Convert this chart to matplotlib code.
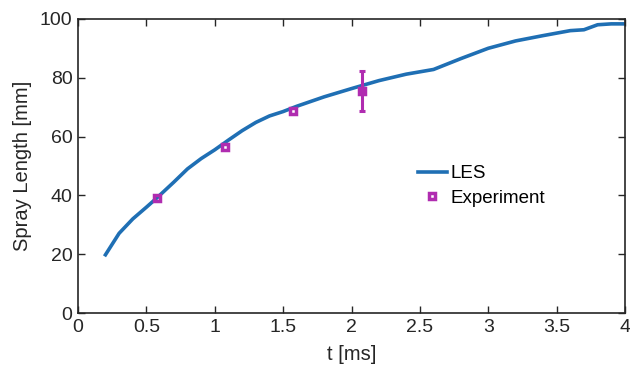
import matplotlib
matplotlib.use("Agg")
import matplotlib.pyplot as plt

plt.rcParams['font.family'] = ['Liberation Sans', 'DejaVu Sans']

# LES simulation
les_t = [0.2, 0.3, 0.4, 0.5, 0.58, 0.7, 0.8, 0.9, 1.0, 1.1, 1.2, 1.3, 1.4, 1.5,
         1.6, 1.8, 2.0, 2.2, 2.4, 2.6, 2.8, 3.0, 3.2, 3.4, 3.6, 3.7, 3.8, 3.9, 4.0]
les_len = [19.8, 27.1, 32.0, 36.0, 39.3, 44.5, 49.0, 52.5, 55.5, 58.8, 62.0, 64.8, 67.0, 68.5,
           70.3, 73.5, 76.3, 79.0, 81.2, 82.8, 86.5, 90.0, 92.5, 94.3, 96.0, 96.3, 98.0, 98.3, 98.3]

# Experiment
exp_t = [0.575, 1.075, 1.575, 2.075]
exp_len = [39.2, 56.4, 68.8, 75.6]
# error bar (only the last experimental point has one)
err_t = [2.075]
err_len = [75.6]
err_low = [6.9]
err_high = [6.8]

line_color = '#1f6fb4'
exp_color = '#b02cb0'

fig = plt.figure(figsize=(6.3, 3.7), dpi=100)
ax = fig.add_axes([0.124, 0.154, 0.868, 0.795])

ax.plot(les_t, les_len, color=line_color, lw=2.6, label='LES', zorder=2)
ax.errorbar(err_t, err_len, yerr=[err_low, err_high], fmt='none',
            ecolor=exp_color, elinewidth=2.2, capsize=2.5, capthick=2.2, zorder=3)
ax.plot(exp_t, exp_len, 's', ms=4.6, mfc='none', mec=exp_color, mew=2.5,
        label='Experiment', zorder=4)

ax.set_xlim(0, 4)
ax.set_ylim(0, 100)
ax.set_xticks([0, 0.5, 1, 1.5, 2, 2.5, 3, 3.5, 4])
ax.set_xticklabels(['0', '0.5', '1', '1.5', '2', '2.5', '3', '3.5', '4'])
ax.set_yticks([0, 20, 40, 60, 80, 100])
ax.tick_params(direction='in', length=5, width=1, labelsize=14, top=True, right=True,
               colors='#262626', pad=4)
for s in ax.spines.values():
    s.set_linewidth(1.2)
    s.set_color('#262626')

ax.set_xlabel('t [ms]', fontsize=14.5, color='#262626', labelpad=7)
ax.set_ylabel('Spray Length [mm]', fontsize=14.5, color='#262626', labelpad=6)

leg = ax.legend(loc='upper left', bbox_to_anchor=(0.59, 0.56), frameon=False,
                fontsize=13.5, handlelength=1.55, handletextpad=0.2, labelspacing=0.4)

fig.savefig('out.png', dpi=100)
